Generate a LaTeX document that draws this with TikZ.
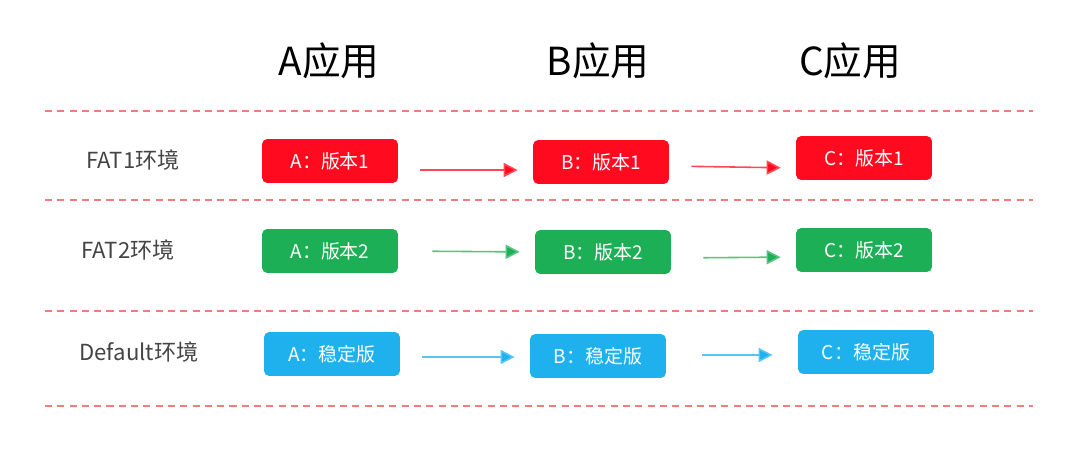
\documentclass[tikz,border=0pt]{standalone}
\usepackage{fontspec}
\setmainfont{Noto Sans CJK SC}
\usetikzlibrary{arrows.meta}
\definecolor{appred}{HTML}{FF0A1E}
\definecolor{appgreen}{HTML}{1DAF55}
\definecolor{appblue}{HTML}{1FB1EE}
\definecolor{sepline}{HTML}{F07C7C}
\definecolor{envgray}{HTML}{444444}
\tikzset{
  verbox/.style={fill=#1, text=white, rounded corners=3pt, minimum width=2.72cm, minimum height=0.88cm, font=\fontsize{10.8}{12}\selectfont, inner sep=0pt},
  flow/.style={draw=#1!75, line width=0.9pt, -{Triangle[length=8pt,width=8pt,fill=#1]}, shorten <=22*0.02cm, shorten >=15*0.02cm},
  envlabel/.style={text=envgray, font=\fontsize{12.6}{14}\selectfont},
  header/.style={font=\fontsize{22}{24}\selectfont}
}
\begin{document}
\begin{tikzpicture}[x=0.02cm, y=-0.02cm]
      \useasboundingbox (0,0) rectangle (1080,473);

      % column heads
      \node[header] (hA) at (329, 61) {A应用};
      \node[header] (hB) at (598, 61) {B应用};
      \node[header] (hC) at (850, 61) {C应用};

      % separators
      \foreach \y in {111, 200, 311, 406}{
        \draw[sepline, line width=0.7pt, dash pattern=on 4pt off 3pt] (45, \y) -- (1033, \y);
      }

      % environments
      \node[envlabel] (eFAT1) at (133, 160) {FAT1环境};
      \node[envlabel] (eFAT2) at (128, 250) {FAT2环境};
      \node[envlabel] (eDef) at (139, 352) {Default环境};

      % FAT1
      \node[verbox=appred] (a1) at (330, 161) {A：版本1};
      \node[verbox=appred] (b1) at (601, 162) {B：版本1};
      \node[verbox=appred] (c1) at (864, 158) {C：版本1};
      % FAT2
      \node[verbox=appgreen] (a2) at (330, 251) {A：版本2};
      \node[verbox=appgreen] (b2) at (603, 252) {B：版本2};
      \node[verbox=appgreen] (c2) at (864, 250) {C：版本2};
      % Default
      \node[verbox=appblue] (a3) at (332, 354) {A：稳定版};
      \node[verbox=appblue] (b3) at (598, 356) {B：稳定版};
      \node[verbox=appblue] (c3) at (866, 352) {C：稳定版};

      \draw[flow=appred] ([yshift=-9*0.02cm]a1.east) -- ([yshift=-8*0.02cm]b1.west);
      \draw[flow=appred] ([yshift=-4*0.02cm]b1.east) -- ([yshift=-10*0.02cm]c1.west);
      \draw[flow=appgreen, shorten <=34*0.02cm] (a2.east) -- (b2.west);
      \draw[flow=appgreen, shorten <=32*0.02cm] ([yshift=-6*0.02cm]b2.east) -- ([yshift=-7*0.02cm]c2.west);
      \draw[flow=appblue] ([yshift=-3*0.02cm]a3.east) -- ([yshift=-1*0.02cm]b3.west);
      \draw[flow=appblue, shorten <=36*0.02cm, shorten >=25*0.02cm] ([yshift=1*0.02cm]b3.east) -- ([yshift=-3*0.02cm]c3.west);
    \end{tikzpicture}
\end{document}
